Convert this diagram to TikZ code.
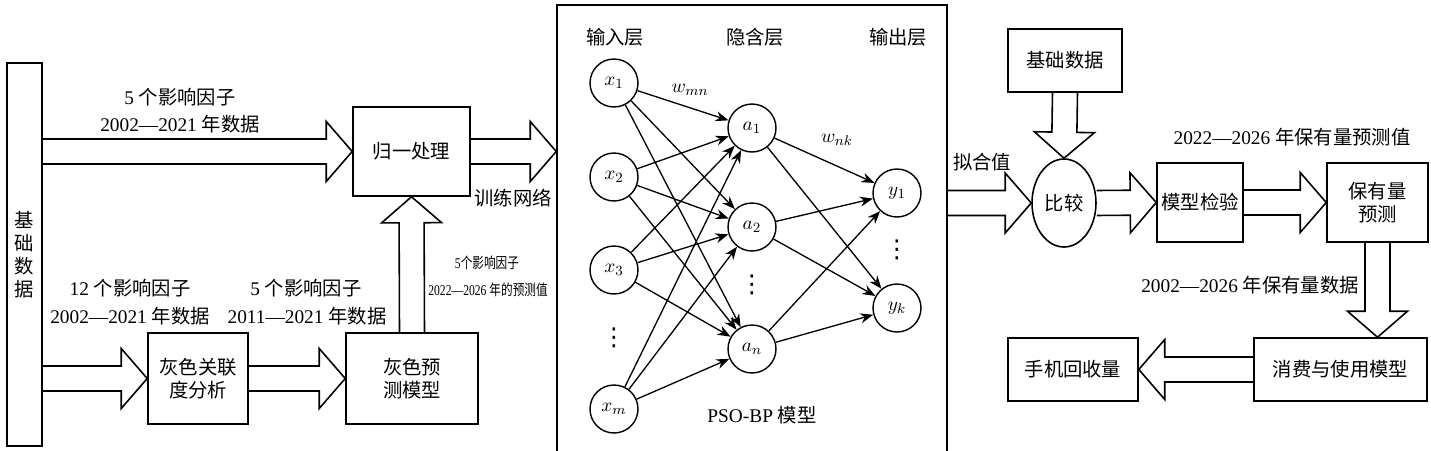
\documentclass[tikz,border=0pt]{standalone}
\usepackage{fontspec}
\setmainfont{Liberation Serif}
\newfontfamily\cjk{Noto Sans CJK SC}
\newfontfamily\symf{DejaVu Sans}
\newcommand{\zh}[1]{{\cjk #1}}
\newcommand{\vdotsym}{{\symf\fontsize{14}{14}\selectfont ⋮}}
\usepackage{tikz}
\usetikzlibrary{arrows.meta,calc,shapes.geometric}

% wide hollow arrow between two points
\newcommand{\fatarrow}[2]{%
  \path ($(#2)!0.52cm!(#1)$) coordinate (hb);
  \draw[fat] ($(#1)!0.25cm!90:(#2)$) -- ($(hb)!0.25cm!90:(#2)$)
    -- ($(hb)!0.6cm!90:(#2)$) -- (#2) -- ($(hb)!0.6cm!-90:(#2)$)
    -- ($(hb)!0.25cm!-90:(#2)$) -- ($(#1)!0.25cm!-90:(#2)$);}

\begin{document}
\begin{tikzpicture}[x=0.02cm, y=-0.02cm,
  font=\fontsize{11}{13}\selectfont,
  box/.style={rectangle, draw, line width=0.9pt, inner sep=0pt, align=center},
  neu/.style={circle, draw, line width=0.8pt, minimum size=0.96cm, inner sep=0pt},
  fat/.style={line width=0.9pt, line join=miter},
  lbl/.style={inner sep=0pt, align=center},
  >={Stealth[length=2.6mm, width=2mm]}
]
  \useasboundingbox (0,0) rectangle (1431,450);

  % left part
  \node[box, minimum width=0.7cm, minimum height=7.66cm] (bar) at (24.5,254.5)
    {\zh{基}\\\zh{础}\\\zh{数}\\\zh{据}};
  \node[box, minimum width=2.34cm, minimum height=1.78cm] (norm) at (411.5,151.5) {\zh{归一处理}};
  \node[box, minimum width=2cm, minimum height=1.82cm] (gra) at (198,378.5) {\zh{灰色关联}\\\zh{度分析}};
  \node[box, minimum width=2.64cm, minimum height=1.82cm] (gpm) at (412,378.5) {\zh{灰色预}\\\zh{测模型}};

  \node[lbl] (t1a) at (180,97) {5 \zh{个影响因子}};
  \node[lbl] (t1b) at (180,124) {2002—2021 \zh{年数据}};
  \node[lbl] (t2a) at (130,288) {12 \zh{个影响因子}};
  \node[lbl] (t2b) at (130,316) {2002—2021 \zh{年数据}};
  \node[lbl] (t3a) at (306,288) {5 \zh{个影响因子}};
  \node[lbl] (t3b) at (307,316) {2011—2021 \zh{年数据}};
  \node[lbl, font=\fontsize{8.5}{10}\selectfont] (t4a) at (487,263) {\scalebox{0.78}[1]{5\zh{个影响因子}}};
  \node[lbl, font=\fontsize{8.5}{10}\selectfont] (t4b) at (488,290) {\scalebox{0.78}[1]{2022—2026 \zh{年的预测值}}};
  \node[lbl] (train) at (513,198) {\zh{训练网络}};

  \coordinate (s1) at (bar.east |- norm.west);
  \coordinate (s2) at (bar.east |- gra.west);
  \fatarrow{s1}{norm.west}
  \fatarrow{s2}{gra.west}
  \fatarrow{gra.east}{gpm.west}
  \fatarrow{gpm.north}{norm.south}

  % network
  \node[box, minimum width=7.8cm, minimum height=9cm] (net) at (752,230) {};
  \node[lbl] (hin) at (615,37) {\zh{输入层}};
  \node[lbl] (hhid) at (755,37) {\zh{隐含层}};
  \node[lbl] (hout) at (898,37) {\zh{输出层}};

  \node[neu] (x1) at (614,83) {$x_1$};
  \node[neu] (x2) at (614,177) {$x_2$};
  \node[neu] (x3) at (614,270) {$x_3$};
  \node[lbl] (xd) at (614,338) {\vdotsym};
  \node[neu] (xm) at (614,409) {$x_m$};

  \node[neu] (a1) at (752,128) {$a_1$};
  \node[neu] (a2) at (752,227) {$a_2$};
  \node[lbl] (ad) at (752,285) {\vdotsym};
  \node[neu] (an) at (752,349) {$a_n$};

  \node[neu] (y1) at (897,193) {$y_1$};
  \node[lbl] (yd) at (897,250) {\vdotsym};
  \node[neu] (yk) at (897,308) {$y_k$};

  \foreach \i in {x1,x2,x3,xm}
    \foreach \j in {a1,a2,an}
      \draw[->, line width=0.75pt] (\i) -- (\j);
  \foreach \i in {a1,a2,an}
    \foreach \j in {y1,yk}
      \draw[->, line width=0.75pt] (\i) -- (\j);

  \node[lbl] (wmn) at (690,90) {$w_{mn}$};
  \node[lbl] (wnk) at (837,140) {$w_{nk}$};
  \node[lbl] (pso) at (762,415) {PSO-BP \zh{模型}};

  \coordinate (s3) at (net.west |- norm.east);
  \fatarrow{norm.east}{s3}

  % right part
  \node[box, minimum width=2.28cm, minimum height=1.26cm] (bd2) at (1065,60.5) {\zh{基础数据}};
  \node[ellipse, draw, line width=0.9pt, inner sep=0pt, minimum width=1.28cm, minimum height=1.76cm] (cmp) at (1064,203) {\zh{比较}};
  \node[box, minimum width=1.72cm, minimum height=1.58cm] (chk) at (1200,202.5) {\zh{模型检验}};
  \node[box, minimum width=2.02cm, minimum height=1.58cm] (pred) at (1377.5,202.5) {\zh{保有量}\\\zh{预测}};
  \node[box, minimum width=3.46cm, minimum height=1.26cm] (use) at (1340.5,369.5) {\zh{消费与使用模型}};
  \node[box, minimum width=2.6cm, minimum height=1.26cm] (rec) at (1073,369.5) {\zh{手机回收量}};

  \node[lbl] (fit) at (982,162) {\zh{拟合值}};
  \node[lbl] (t5) at (1292,137) {2022—2026 \zh{年保有量预测值}};
  \node[lbl] (t6) at (1250,285) {2002—2026 \zh{年保有量数据}};

  \coordinate (s4) at (net.east |- cmp.west);
  \coordinate (s5) at (pred.south |- use.north);
  \fatarrow{s4}{cmp.west}
  \fatarrow{bd2.south}{cmp.north}
  \fatarrow{cmp.east}{chk.west}
  \fatarrow{chk.east}{pred.west}
  \fatarrow{pred.south}{s5}
  \fatarrow{use.west}{rec.east}
\end{tikzpicture}
\end{document}
